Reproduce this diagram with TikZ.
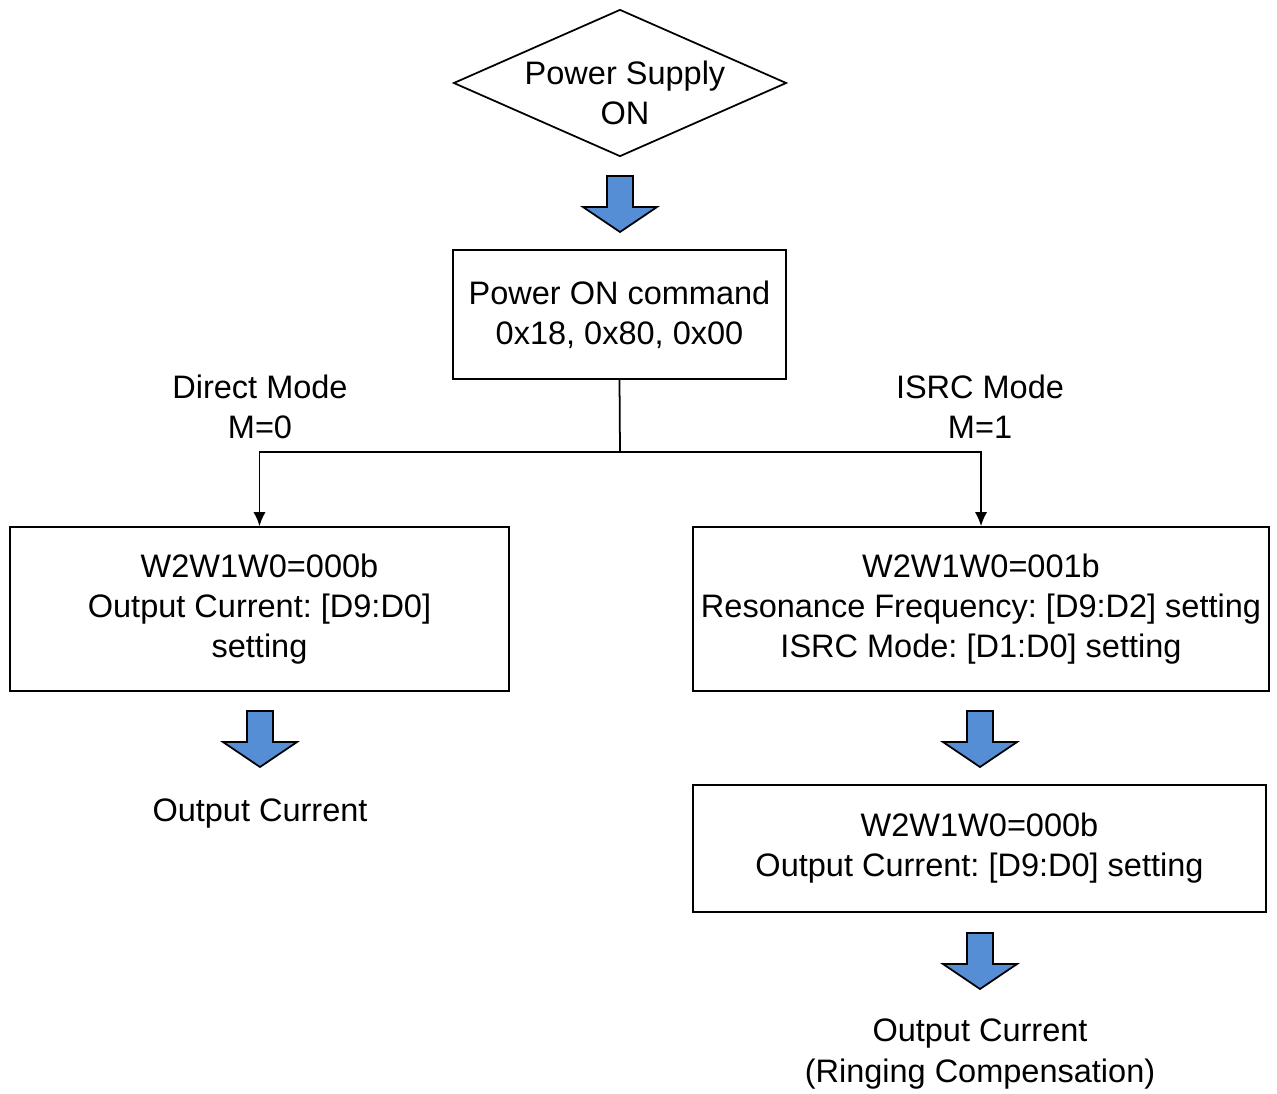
\documentclass[tikz,border=0pt]{standalone}
\usepackage{fontspec}
\setmainfont{Liberation Sans}
\usetikzlibrary{shapes.geometric,arrows.meta}

\definecolor{arrowblue}{RGB}{85,142,213}
\frenchspacing

\tikzset{
  box/.style={draw, line width=1pt, align=center, inner sep=0pt},
  lbl/.style={align=center, inner sep=0pt},
  bigarrow/.pic={
    \draw[line width=1pt, fill=arrowblue]
      (-13,0) -- (13,0) -- (13,31) -- (37,31) -- (0,56) -- (-37,31) -- (-13,31) -- cycle;
  }
}

\begin{document}
\begin{tikzpicture}[x=0.02cm, y=-0.02cm, font=\fontsize{18.5}{22.8}\selectfont]
        % Rahmen
        \useasboundingbox (0,0) rectangle (1277,1093);

        % Start
        \node[draw, diamond, line width=1pt, minimum width=6.66cm, minimum height=2.94cm, inner sep=0pt] (supply) at (620,83) {};
        \node[lbl] (supplytxt) at (625,93) {Power Supply\\ON};
        \pic at (620,176) {bigarrow};

        % Kommando
        \node[box, minimum width=6.66cm, minimum height=2.58cm] (cmd) at (619.5,314.5)
          {Power ON command\\0x18, 0x80, 0x00};

        % Modi
        \node[lbl] (directlbl) at (260,407) {Direct Mode\\M=0};
        \node[lbl] (isrclbl) at (980,407) {ISRC Mode\\M=1};

        \node[box, minimum width=9.98cm, minimum height=3.28cm] (direct) at (259.5,609)
          {W2W1W0=000b\\Output Current: [D9:D0]\\setting};
        \node[box, minimum width=11.52cm, minimum height=3.28cm] (isrc) at (981,609)
          {W2W1W0=001b\\Resonance Frequency: [D9:D2] setting\\ISRC Mode: [D1:D0] setting};

        % Verzweigung
        \coordinate (split) at (620,452);
        \draw[line width=1pt] (cmd.south) -- (split);
        \draw[line width=1pt, -{Latex[length=8pt,width=7pt]}] (split) -| (direct.north);
        \draw[line width=1pt, -{Latex[length=8pt,width=7pt]}] (split) -| (isrc.north);

        % Direct Mode
        \pic at (260,711) {bigarrow};
        \node[lbl] (outdirect) at (260,814) {Output Current};

        % ISRC Mode
        \pic at (980,711) {bigarrow};
        \node[box, minimum width=11.46cm, minimum height=2.54cm] (current) at (979.5,848.5)
          {W2W1W0=000b\\Output Current: [D9:D0] setting};
        \pic at (980,933) {bigarrow};
        \node[lbl] (outisrc) at (980,1054) {Output Current\\(Ringing Compensation)};
\end{tikzpicture}
\end{document}
